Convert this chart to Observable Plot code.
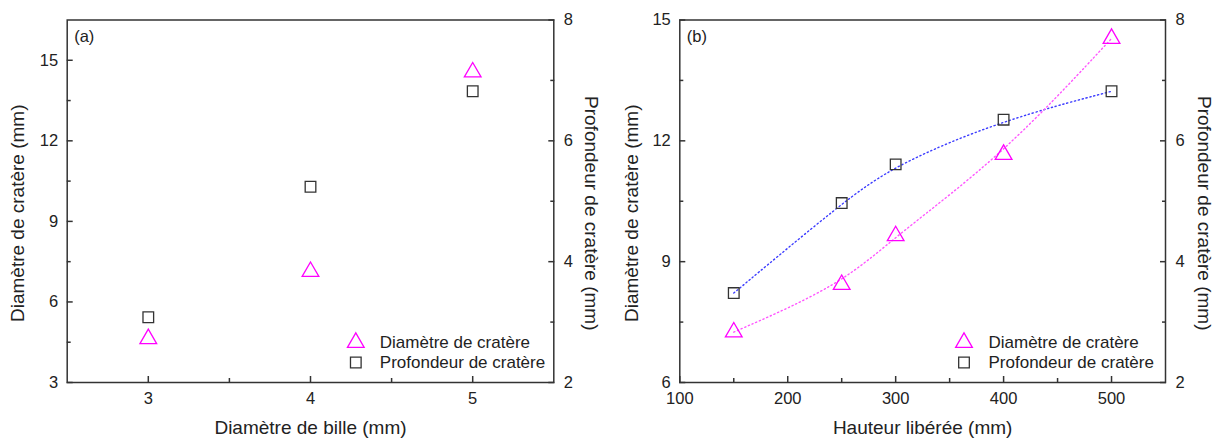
<!DOCTYPE html>
<html><head><meta charset="utf-8">
<script src="https://cdn.jsdelivr.net/npm/d3@7"></script>
<script src="https://cdn.jsdelivr.net/npm/@observablehq/plot@0.6"></script>
<style>
body{margin:0;background:#fff;}
#wrap{display:flex;width:1218px;height:439px;overflow:hidden;}
#wrap svg{display:block;flex:none;}
</style></head><body><div id="wrap"></div>
<script>
// Panel (a)
const ballDiameter = [3, 4, 5];
const craterDiameterA = [4.63, 7.13, 14.56];
const craterDepthA = [3.08, 5.24, 6.82];
// Panel (b)
const dropHeight = [150, 250, 300, 400, 500];
const craterDiameterB = [7.25, 8.43, 9.64, 11.66, 14.54];
const craterDepthB = [3.48, 4.97, 5.61, 6.35, 6.82];

const seriesNames = ["Diamètre de cratère", "Profondeur de cratère"];
const yTitle = "Diamètre de cratère (mm)";
const rTitle = "Profondeur de cratère (mm)";

const xTicksA = [3, 4, 5], xMinorA = [3.5, 4.5];
const yTicksA = [3, 6, 9, 12, 15], yMinorA = [4.5, 7.5, 10.5, 13.5];
const xTicksB = [100, 200, 300, 400, 500], xMinorB = [150, 250, 350, 450];
const yTicksB = [6, 9, 12, 15], yMinorB = [7.5, 10.5, 13.5];
const rTicks = [2, 4, 6, 8], rMinor = [3, 5, 7];

const FONT = "'Liberation Sans', Arial, sans-serif";
const INK = "#333";
const PINK = "#ff00ff";
const TICKFS = 16.5, LEGFS = 17, TITLEFS = 19;

function panel(o) {
  const [y0, y1] = o.yDomain, [r0, r1] = o.rDomain;
  const toLeft = r => y0 + (r - r0) * (y1 - y0) / (r1 - r0);
  const fromLeft = v => r0 + (v - y0) * (r1 - r0) / (y1 - y0);
  const tri = o.xs.map((x, i) => ({x, y: o.diam[i]}));
  const sq = o.xs.map((x, i) => ({x, y: toLeft(o.depth[i])}));
  const marks = [
    Plot.axisX({ticks: o.xTicks, tickSize: -6, tickPadding: 16, tickFormat: d => d, stroke: INK, strokeWidth: 1.5, fontSize: TICKFS, label: null}),
    Plot.axisX({ticks: o.xMinor, tickSize: -4, tickFormat: () => "", stroke: INK, strokeWidth: 1.5, label: null}),
    Plot.axisY({ticks: o.yTicks, tickSize: -6, tickPadding: 15, tickFormat: d => d, stroke: INK, strokeWidth: 1.5, fontSize: TICKFS, label: null}),
    Plot.axisY({ticks: o.yMinor, tickSize: -4, tickFormat: () => "", stroke: INK, strokeWidth: 1.5, label: null}),
    Plot.axisY({anchor: "right", ticks: rTicks.map(toLeft), tickSize: -6, tickPadding: 16, tickFormat: v => Math.round(fromLeft(v)), stroke: INK, strokeWidth: 1.5, fontSize: TICKFS, label: null}),
    Plot.axisY({anchor: "right", ticks: rMinor.map(toLeft), tickSize: -4, tickFormat: () => "", stroke: INK, strokeWidth: 1.5, label: null}),
    Plot.frame({stroke: INK, strokeWidth: 1.5}),
  ];
  if (o.fit) {
    marks.push(
      Plot.line(sq, {x: "x", y: "y", curve: "basis", stroke: "#3b3bff", strokeWidth: 1.4, strokeDasharray: "1.2,2.8"}),
      Plot.line(tri, {x: "x", y: "y", curve: "basis", stroke: "#ff55ff", strokeWidth: 1.4, strokeDasharray: "1.2,2.8"})
    );
  }
  const mid = {lineAnchor: "middle", fill: "#222"};
  marks.push(
    Plot.dot(tri, {x: "x", y: "y", symbol: "triangle", r: 6.2, stroke: PINK, strokeWidth: 1.3, fill: "none"}),
    Plot.dot(sq, {x: "x", y: "y", symbol: "square", r: 6, stroke: INK, strokeWidth: 1.3, fill: "none"}),
    // legend
    Plot.dot([0], {frameAnchor: "bottom-right", dx: o.legMarkDx, dy: -40, symbol: "triangle", r: 6.2, stroke: PINK, strokeWidth: 1.3, fill: "none"}),
    Plot.dot([0], {frameAnchor: "bottom-right", dx: o.legMarkDx, dy: -20, symbol: "square", r: 6, stroke: INK, strokeWidth: 1.3, fill: "none"}),
    Plot.text([seriesNames[0]], {frameAnchor: "bottom-right", dx: o.legTextDx, dy: -40, textAnchor: "start", fontSize: LEGFS, ...mid}),
    Plot.text([seriesNames[1]], {frameAnchor: "bottom-right", dx: o.legTextDx, dy: -20, textAnchor: "start", fontSize: LEGFS, ...mid}),
    // tag
    Plot.text([o.tag], {frameAnchor: "top-left", dx: 7, dy: 17, textAnchor: "start", fontSize: TICKFS, ...mid}),
    // titles
    Plot.text([o.xTitle], {frameAnchor: "bottom", dy: 45, textAnchor: "middle", fontSize: TITLEFS, ...mid}),
    Plot.text([yTitle], {frameAnchor: "left", dx: o.yTitleDx, dy: 12, rotate: -90, textAnchor: "middle", fontSize: TITLEFS, ...mid}),
    Plot.text([rTitle], {frameAnchor: "right", dx: o.rTitleDx, dy: 12, rotate: 90, textAnchor: "middle", fontSize: TITLEFS, ...mid})
  );
  return Plot.plot({
    width: o.width, height: 439,
    marginLeft: o.marginLeft, marginRight: o.marginRight, marginTop: 19.5, marginBottom: 57,
    x: {domain: o.xDomain},
    y: {domain: o.yDomain},
    style: {fontFamily: FONT, fontSize: "16px", color: "#222", background: "transparent", overflow: "visible"},
    marks
  });
}

const wrap = document.getElementById("wrap");
wrap.append(panel({
  width: 609, marginLeft: 66.7, marginRight: 55.7,
  xDomain: [2.5, 5.5], yDomain: [3, 16.5], rDomain: [2, 8],
  xTicks: xTicksA, xMinor: xMinorA, yTicks: yTicksA, yMinor: yMinorA,
  xs: ballDiameter, diam: craterDiameterA, depth: craterDepthA, fit: false,
  tag: "(a)", xTitle: "Diamètre de bille (mm)",
  legMarkDx: -198, legTextDx: -174, yTitleDx: -49, rTitleDx: 37
}));
wrap.append(panel({
  width: 609, marginLeft: 70.3, marginRight: 53,
  xDomain: [100, 550], yDomain: [6, 15], rDomain: [2, 8],
  xTicks: xTicksB, xMinor: xMinorB, yTicks: yTicksB, yMinor: yMinorB,
  xs: dropHeight, diam: craterDiameterB, depth: craterDepthB, fit: true,
  tag: "(b)", xTitle: "Hauteur libérée (mm)",
  legMarkDx: -201.5, legTextDx: -177, yTitleDx: -48, rTitleDx: 39
}));
</script></body></html>
